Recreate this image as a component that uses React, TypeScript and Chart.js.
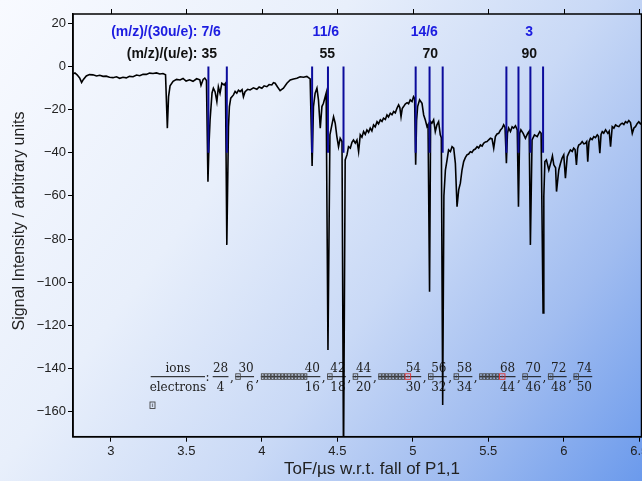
import React, { useEffect, useRef } from 'react';
import { Chart, registerables } from 'chart.js';

Chart.register(...registerables);

// Time of flight (µs w.r.t. fall of P1,1)
const tofTimes = [
  2.749, 2.762, 2.776, 2.793, 2.806, 2.818, 2.837, 2.858, 2.881, 2.905,
  2.926, 2.948, 2.969, 2.991, 3.014, 3.037, 3.058, 3.080, 3.102, 3.123,
  3.147, 3.170, 3.191, 3.213, 3.235, 3.256, 3.279, 3.302, 3.324, 3.345,
  3.362, 3.374, 3.382, 3.392, 3.412, 3.435, 3.458, 3.478, 3.498, 3.521,
  3.544, 3.568, 3.589, 3.597, 3.611, 3.622, 3.633, 3.643, 3.650, 3.657,
  3.670, 3.679, 3.690, 3.702, 3.712, 3.723, 3.735, 3.750, 3.759, 3.768,
  3.779, 3.785, 3.794, 3.812, 3.823, 3.834, 3.845, 3.856, 3.869, 3.878,
  3.889, 3.906, 3.922, 3.944, 3.967, 3.982, 4.000, 4.015, 4.033, 4.048,
  4.066, 4.077, 4.088, 4.103, 4.121, 4.143, 4.166, 4.188, 4.210, 4.232,
  4.254, 4.276, 4.298, 4.320, 4.333, 4.342, 4.353, 4.365, 4.375, 4.387,
  4.398, 4.408, 4.426, 4.438, 4.451, 4.464, 4.475, 4.486, 4.497, 4.508,
  4.519, 4.531, 4.541, 4.552, 4.564, 4.574, 4.586, 4.597, 4.607, 4.619,
  4.630, 4.641, 4.652, 4.663, 4.674, 4.685, 4.696, 4.707, 4.718, 4.729,
  4.740, 4.751, 4.763, 4.773, 4.785, 4.796, 4.806, 4.818, 4.829, 4.839,
  4.851, 4.862, 4.873, 4.884, 4.895, 4.906, 4.914, 4.922, 4.930, 4.939,
  4.950, 4.962, 4.972, 4.983, 4.995, 5.005, 5.012, 5.019, 5.025, 5.032,
  5.045, 5.061, 5.072, 5.083, 5.094, 5.101, 5.111, 5.118, 5.127, 5.138,
  5.149, 5.160, 5.171, 5.182, 5.189, 5.198, 5.206, 5.216, 5.227, 5.237,
  5.249, 5.260, 5.271, 5.282, 5.293, 5.304, 5.315, 5.326, 5.337, 5.348,
  5.359, 5.370, 5.381, 5.392, 5.403, 5.414, 5.426, 5.436, 5.448, 5.459,
  5.469, 5.481, 5.492, 5.503, 5.514, 5.525, 5.536, 5.547, 5.558, 5.569,
  5.580, 5.592, 5.602, 5.611, 5.620, 5.627, 5.635, 5.647, 5.658, 5.668,
  5.680, 5.692, 5.700, 5.708, 5.716, 5.731, 5.746, 5.761, 5.771, 5.779,
  5.790, 5.806, 5.824, 5.841, 5.850, 5.863, 5.868, 5.875, 5.885, 5.901,
  5.916, 5.925, 5.934, 5.946, 5.952, 5.967, 5.978, 5.989, 6.000, 6.011,
  6.023, 6.033, 6.044, 6.056, 6.066, 6.075, 6.084, 6.092, 6.099, 6.111,
  6.122, 6.133, 6.144, 6.152, 6.159, 6.167, 6.177, 6.188, 6.199, 6.210,
  6.222, 6.230, 6.239, 6.247, 6.255, 6.265, 6.277, 6.292, 6.301, 6.310,
  6.321, 6.332, 6.343, 6.354, 6.365, 6.376, 6.387, 6.398, 6.409, 6.420,
  6.431, 6.442, 6.454, 6.465, 6.475, 6.486, 6.497, 6.508, 6.515,
];

// Signal intensity (arbitrary units)
const signal = [
  -3.5, -3.0, -3.9, -5.3, -7.4, -6.0, -4.4, -3.8, -3.9, -4.4,
  -4.1, -4.6, -4.5, -5.0, -5.2, -4.8, -5.5, -5.0, -5.3, -4.6,
  -4.8, -4.0, -4.3, -3.6, -3.7, -3.1, -3.3, -3.0, -3.5, -3.3,
  -3.9, -28.6, -14.0, -9.0, -6.9, -6.0, -6.3, -5.6, -6.8, -6.2,
  -6.9, -5.7, -6.2, -8.8, -6.0, -5.4, -6.5, -53.4, -36.0, -24.8,
  -12.3, -10.1, -11.7, -16.3, -9.4, -12.4, -7.8, -8.6, -7.8, -82.7,
  -27.9, -18.6, -14.7, -13.2, -11.6, -12.4, -11.0, -11.7, -10.8, -14.1,
  -11.7, -10.6, -10.9, -9.9, -10.6, -9.5, -10.1, -9.0, -9.4, -8.4,
  -8.6, -7.5, -7.8, -9.4, -11.2, -10.1, -7.8, -6.3, -5.8, -5.5,
  -4.8, -5.0, -4.6, -5.8, -46.1, -18.6, -12.4, -10.1, -15.5, -28.6,
  -18.6, -17.1, -12.4, -131.4, -31.7, -27.1, -23.3, -26.3, -32.5, -37.2,
  -33.3, -34.8, -185.0, -43.3, -41.0, -37.2, -37.9, -35.2, -34.1, -35.5,
  -34.1, -39.5, -31.7, -32.8, -30.2, -31.5, -29.4, -30.5, -28.6, -29.9,
  -27.1, -28.0, -25.6, -26.6, -24.8, -25.5, -24.0, -24.6, -22.5, -23.4,
  -21.7, -22.4, -20.9, -21.5, -19.4, -17.8, -19.0, -23.3, -19.5, -18.6,
  -17.4, -16.8, -17.3, -15.5, -16.3, -14.0, -14.8, -45.6, -25.0, -18.6,
  -15.5, -17.1, -22.5, -24.8, -27.9, -27.0, -104.4, -25.6, -26.3, -24.8,
  -30.2, -27.1, -25.6, -31.7, -33.0, -156.9, -60.0, -48.0, -43.3, -38.7,
  -39.5, -37.2, -37.9, -44.9, -65.0, -57.2, -54.1, -48.0, -44.1, -42.3,
  -41.0, -40.6, -39.5, -39.9, -38.7, -38.3, -37.2, -37.8, -36.4, -36.9,
  -35.6, -35.0, -34.8, -34.0, -33.3, -33.6, -37.9, -32.5, -31.3, -31.0,
  -29.6, -28.6, -27.1, -28.3, -44.9, -31.0, -28.6, -30.2, -28.0, -28.6,
  -27.5, -29.4, -65.0, -31.0, -29.4, -31.0, -33.3, -31.0, -30.0, -82.7,
  -34.1, -31.7, -32.5, -30.2, -31.0, -114.2, -60.0, -44.1, -43.3, -48.0,
  -44.1, -41.5, -45.6, -47.0, -58.0, -48.0, -45.0, -42.5, -41.0, -51.8,
  -41.8, -40.2, -38.7, -39.4, -37.9, -38.5, -45.6, -38.0, -36.4, -35.9,
  -34.8, -35.9, -35.6, -34.8, -44.1, -35.0, -33.3, -33.9, -32.5, -33.0,
  -31.7, -32.4, -40.2, -31.5, -30.2, -30.9, -29.4, -31.0, -30.0, -37.2,
  -27.9, -28.6, -27.1, -27.6, -27.9, -26.8, -26.3, -26.9, -25.6, -26.2,
  -25.1, -26.0, -31.0, -28.5, -27.9, -26.5, -25.6, -26.6, -26.3,
];

// Expected arrival times (blue markers)
const peakLines = [3.646, 3.768, 4.333, 4.438, 4.541, 5.019, 5.111, 5.198, 5.620, 5.700, 5.779, 5.863];
const peakLineTop = 0;
const peakLineBottom = -40;

const massLabels = ['35', '55', '70', '90'];
const massLabelX = [3.651, 4.433, 5.116, 5.772];
const massLabelY = 5.8;
const ratioLabels = ['7/6', '11/6', '14/6', '3'];
const ratioLabelX = [3.664, 4.424, 5.076, 5.770];
const ratioLabelY = 15.8;

const fracNum = ['28', '30', '40', '42', '44', '54', '56', '58', '68', '70', '72', '74'];
const fracDen = ['4', '6', '16', '18', '20', '30', '32', '34', '44', '46', '48', '50'];
const fracTofu = [0, 1, 14, 1, 1, 9, 1, 1, 7, 1, 1, 1];
const fracRedTofu = [false, false, false, false, false, true, false, false, true, false, false, false];

const X_MIN = 2.749;
const X_MAX = 6.515;
const Y_MIN = -171.6;
const Y_MAX = 24.3;

const SANS = '"Liberation Sans", Arial, sans-serif';
const SERIF = '"DejaVu Serif", serif';

const bgPlugin = {
  id: 'bgGradient',
  beforeDraw(chart: any) {
    const ctx = chart.ctx;
    const g = ctx.createLinearGradient(0, 0, 642, 481);
    g.addColorStop(0, '#f8faff');
    g.addColorStop(0.35, '#e8effb');
    g.addColorStop(0.6, '#c9d9f6');
    g.addColorStop(0.8, '#a0bcf0');
    g.addColorStop(1, '#6b9aec');
    ctx.save();
    ctx.fillStyle = g;
    ctx.fillRect(0, 0, chart.width, chart.height);
    ctx.restore();
  },
};

function drawTofu(ctx: any, x: number, y: number, w: number, h: number, red: boolean) {
  ctx.save();
  ctx.strokeStyle = red ? '#e03030' : '#444';
  ctx.lineWidth = 0.9;
  ctx.strokeRect(x + 0.5, y + 0.5, w - 1, h - 1);
  ctx.fillStyle = red ? 'rgba(224,48,48,0.6)' : 'rgba(60,60,60,0.6)';
  ctx.fillRect(x + w / 2 - 0.6, y + 2, 1.2, h - 4);
  ctx.restore();
}

const annotationPlugin = {
  id: 'annotations',
  beforeDatasetsDraw(chart: any) {
    const ctx = chart.ctx;
    const xs = chart.scales.x;
    const ys = chart.scales.y;
    ctx.save();
    // Header labels
    ctx.font = 'bold 14px ' + SANS;
    ctx.textBaseline = 'middle';
    const yBlue = ys.getPixelForValue(ratioLabelY);
    const yBlack = ys.getPixelForValue(massLabelY);
    ratioLabels.forEach((lab, i) => {
      const cx = xs.getPixelForValue(ratioLabelX[i]);
      ctx.fillStyle = '#1c1ce0';
      if (i === 0) {
        const w = ctx.measureText(lab).width;
        ctx.textAlign = 'right';
        ctx.fillText('(m/z)/(30u/e): ' + lab, cx + w / 2, yBlue);
      } else {
        ctx.textAlign = 'center';
        ctx.fillText(lab, cx, yBlue);
      }
    });
    massLabels.forEach((lab, i) => {
      const cx = xs.getPixelForValue(massLabelX[i]);
      ctx.fillStyle = '#111';
      if (i === 0) {
        const w = ctx.measureText(lab).width;
        ctx.textAlign = 'right';
        ctx.fillText('(m/z)/(u/e): ' + lab, cx + w / 2, yBlack);
      } else {
        ctx.textAlign = 'center';
        ctx.fillText(lab, cx, yBlack);
      }
    });

    // ions / electrons fraction list
    const barY = 376.7;
    const numBase = 372.3;
    const denBase = 391;
    ctx.font = '12px ' + SERIF;
    ctx.fillStyle = '#222';
    ctx.strokeStyle = '#111';
    ctx.lineWidth = 1;
    ctx.textBaseline = 'alphabetic';
    ctx.textAlign = 'center';
    ctx.beginPath();
    ctx.moveTo(150.7, barY);
    ctx.lineTo(205, barY);
    ctx.stroke();
    ctx.fillText('ions', 177.9, numBase);
    ctx.fillText('electrons', 177.9, denBase);
    ctx.textAlign = 'left';
    ctx.fillText(':', 205.5, 380.5);
    let x = 212.7;
    for (let i = 0; i < fracNum.length; i++) {
      const n = fracTofu[i];
      const step = n === 1 ? 5.5 : 3.3;
      const boxesW = n === 0 ? 0 : n * step - 2.5;
      const numW = Math.max(ctx.measureText(fracNum[i]).width, ctx.measureText(fracDen[i]).width);
      const barEnd = x + boxesW + numW + 0.5;
      ctx.strokeStyle = '#111';
      ctx.beginPath();
      ctx.moveTo(x, barY);
      ctx.lineTo(barEnd, barY);
      ctx.stroke();
      for (let k = 0; k < n; k++) {
        const red = fracRedTofu[i] && k === n - 1;
        drawTofu(ctx, x + k * step, 373.3, n === 1 ? 5.5 : (red ? 6.5 : 3.6), 6.5, red);
      }
      ctx.fillStyle = '#222';
      if (n === 0) {
        ctx.textAlign = 'center';
        ctx.fillText(fracNum[i], (x + barEnd) / 2, numBase);
        ctx.fillText(fracDen[i], (x + barEnd) / 2, denBase);
      } else {
        ctx.textAlign = 'right';
        ctx.fillText(fracNum[i], barEnd - 0.3, numBase);
        ctx.fillText(fracDen[i], barEnd - 0.3, denBase);
      }
      if (i < fracNum.length - 1) {
        ctx.textAlign = 'left';
        ctx.fillText(',', barEnd + 1.5, 380.5);
      }
      x = barEnd + 6.8;
    }
    drawTofu(ctx, 149.5, 401.5, 6, 7.5, false);
    ctx.restore();
  },
};

const framePlugin = {
  id: 'frame',
  afterDraw(chart: any) {
    const ctx = chart.ctx;
    const a = chart.chartArea;
    const xs = chart.scales.x;
    const ys = chart.scales.y;
    ctx.save();
    ctx.strokeStyle = '#000';
    ctx.lineWidth = 1.5;
    ctx.strokeRect(a.left, a.top, a.right - a.left, a.bottom - a.top);
    ctx.lineWidth = 1;
    ctx.beginPath();
    xs.ticks.forEach((t: any, i: number) => {
      const px = Math.round(xs.getPixelForTick(i)) + 0.5;
      ctx.moveTo(px, a.top);
      ctx.lineTo(px, a.top - 5);
    });
    ys.ticks.forEach((t: any, i: number) => {
      const py = Math.round(ys.getPixelForTick(i)) + 0.5;
      ctx.moveTo(a.right, py);
      ctx.lineTo(a.right + 5, py);
    });
    ctx.stroke();

    ctx.fillStyle = '#222';
    ctx.textAlign = 'center';
    ctx.textBaseline = 'middle';
    ctx.font = '17px ' + SANS;
    ctx.fillText('ToF/\u00b5s w.r.t. fall of P1,1', 372, 469);
    ctx.translate(20, 221);
    ctx.rotate(-Math.PI / 2);
    ctx.font = '16px ' + SANS;
    ctx.fillText('Signal Intensity / arbitrary units', 0, 0);
    ctx.restore();
  },
};

export default function App() {
  const ref = useRef<HTMLCanvasElement | null>(null);
  useEffect(() => {
    if (!ref.current) return;
    const traceData = tofTimes.map((t, i) => ({ x: t, y: signal[i] }));
    const lineData: any[] = [];
    peakLines.forEach((p) => {
      lineData.push({ x: p, y: peakLineTop });
      lineData.push({ x: p, y: peakLineBottom });
      lineData.push({ x: p, y: null });
    });
    const chart = new Chart(ref.current, {
      type: 'line',
      data: {
        datasets: [
          {
            data: lineData,
            borderColor: '#0c0c9c',
            borderWidth: 2,
            pointRadius: 0,
            spanGaps: false,
            order: 0,
          },
          {
            data: traceData,
            borderColor: '#000',
            borderWidth: 1.6,
            pointRadius: 0,
            tension: 0,
            order: 1,
          },
        ],
      },
      options: {
        responsive: false,
        animation: false,
        events: [],
        layout: { padding: { top: 14, right: 18.5, left: 0, bottom: 0 } },
        plugins: {
          legend: { display: false },
          tooltip: { enabled: false },
          title: { display: false },
        },
        scales: {
          x: {
            type: 'linear',
            min: X_MIN,
            max: X_MAX,
            afterFit: (s: any) => { s.height = 44.3; },
            grid: { drawOnChartArea: false, drawTicks: true, tickLength: 5, color: '#000', tickColor: '#000' },
            border: { display: true, color: '#000', width: 1.5 },
            ticks: {
              stepSize: 0.5,
              includeBounds: false,
              maxRotation: 0,
              autoSkip: false,
              padding: 2,
              color: '#222',
              font: { family: SANS, size: 13 },
              callback: (v: any) => String(Math.round(Number(v) * 10) / 10),
            },
          },
          y: {
            type: 'linear',
            min: Y_MIN,
            max: Y_MAX,
            afterFit: (s: any) => { s.width = 73; },
            grid: { drawOnChartArea: false, drawTicks: true, tickLength: 5, color: '#000', tickColor: '#000' },
            border: { display: true, color: '#000', width: 1.5 },
            ticks: {
              stepSize: 20,
              includeBounds: false,
              autoSkip: false,
              padding: 2,
              color: '#222',
              font: { family: SANS, size: 13 },
              callback: (v: any) => {
                const n = Number(v);
                return n < 0 ? '\u2212' + Math.abs(n) : String(n);
              },
            },
          },
        },
      },
      plugins: [bgPlugin, annotationPlugin, framePlugin],
    });
    return () => chart.destroy();
  }, []);

  return (
    <div style={{ position: 'fixed', left: 0, top: 0, width: 642, height: 481, overflow: 'hidden' }}>
      <canvas ref={ref} width={660} height={481} style={{ display: 'block', width: 660, height: 481 }} />
    </div>
  );
}
